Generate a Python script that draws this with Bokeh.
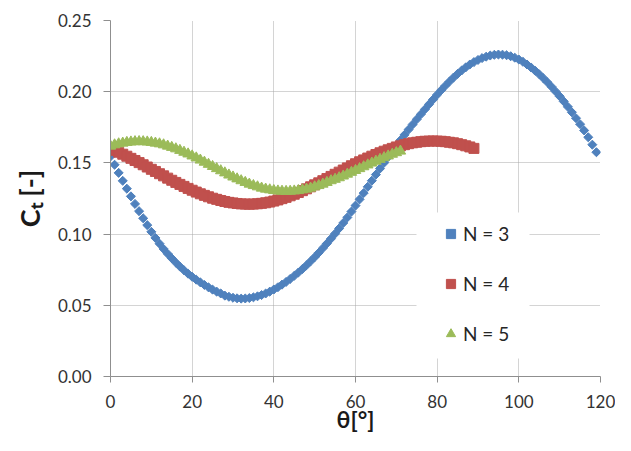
import math
from bokeh.plotting import figure
from bokeh.models import (Range1d, Legend, LegendItem, BoxAnnotation,
                          NumeralTickFormatter, FixedTicker)
from bokeh.embed import file_html
from bokeh.resources import INLINE

# ---------------- data ----------------
theta3 = list(range(0, 120))
ct3 = [0.1545, 0.1487, 0.1430, 0.1374, 0.1319, 0.1265, 0.1212, 0.1161, 0.1111, 0.1063,
       0.1016, 0.0973, 0.0933, 0.0896, 0.0862, 0.0830, 0.0800, 0.0772, 0.0746, 0.0722,
       0.0700, 0.0680, 0.0661, 0.0643, 0.0626, 0.0610, 0.0596, 0.0583, 0.0568, 0.0560,
       0.0553, 0.0549, 0.0547, 0.0548, 0.0551, 0.0556, 0.0563, 0.0572, 0.0583, 0.0596,
       0.0611, 0.0627, 0.0645, 0.0664, 0.0685, 0.0707, 0.0730, 0.0755, 0.0781, 0.0809,
       0.0838, 0.0869, 0.0901, 0.0934, 0.0968, 0.1003, 0.1040, 0.1078, 0.1117, 0.1158,
       0.1200, 0.1244, 0.1288, 0.1332, 0.1375, 0.1418, 0.1460, 0.1501, 0.1542, 0.1582,
       0.1621, 0.1659, 0.1697, 0.1734, 0.1770, 0.1806, 0.1841, 0.1876, 0.1911, 0.1945,
       0.1979, 0.2011, 0.2042, 0.2071, 0.2099, 0.2125, 0.2149, 0.2171, 0.2191, 0.2208,
       0.2223, 0.2236, 0.2246, 0.2254, 0.2259, 0.2261, 0.2260, 0.2256, 0.2249, 0.2239,
       0.2226, 0.2210, 0.2191, 0.2170, 0.2147, 0.2122, 0.2095, 0.2066, 0.2035, 0.2002,
       0.1968, 0.1932, 0.1894, 0.1855, 0.1814, 0.1772, 0.1728, 0.1680, 0.1628, 0.1575]

theta4 = list(range(0, 90))
ct4 = [0.1600, 0.1588, 0.1575, 0.1561, 0.1547, 0.1532, 0.1517, 0.1502, 0.1487, 0.1471,
       0.1455, 0.1440, 0.1424, 0.1409, 0.1393, 0.1378, 0.1363, 0.1349, 0.1335, 0.1321,
       0.1308, 0.1295, 0.1283, 0.1272, 0.1262, 0.1252, 0.1244, 0.1236, 0.1229, 0.1223,
       0.1219, 0.1215, 0.1212, 0.1211, 0.1210, 0.1211, 0.1213, 0.1216, 0.1220, 0.1225,
       0.1232, 0.1240, 0.1249, 0.1258, 0.1269, 0.1280, 0.1292, 0.1305, 0.1318, 0.1332,
       0.1346, 0.1360, 0.1375, 0.1390, 0.1405, 0.1420, 0.1435, 0.1450, 0.1465, 0.1480,
       0.1494, 0.1508, 0.1521, 0.1534, 0.1547, 0.1559, 0.1571, 0.1582, 0.1592, 0.1602,
       0.1612, 0.1620, 0.1628, 0.1635, 0.1641, 0.1645, 0.1649, 0.1652, 0.1653, 0.1654,
       0.1653, 0.1652, 0.1649, 0.1645, 0.1641, 0.1635, 0.1628, 0.1620, 0.1612, 0.1602]

theta5 = list(range(0, 72))
ct5 = [0.1618, 0.1627, 0.1634, 0.1639, 0.1644, 0.1647, 0.1649, 0.1650, 0.1649, 0.1647,
       0.1644, 0.1639, 0.1634, 0.1627, 0.1618, 0.1609, 0.1599, 0.1588, 0.1575, 0.1563,
       0.1549, 0.1535, 0.1520, 0.1505, 0.1490, 0.1475, 0.1460, 0.1445, 0.1430, 0.1415,
       0.1401, 0.1388, 0.1375, 0.1363, 0.1351, 0.1341, 0.1332, 0.1323, 0.1316, 0.1311,
       0.1306, 0.1303, 0.1301, 0.1300, 0.1301, 0.1303, 0.1306, 0.1311, 0.1316, 0.1323,
       0.1332, 0.1341, 0.1351, 0.1363, 0.1375, 0.1385, 0.1396, 0.1408, 0.1421, 0.1434,
       0.1447, 0.1460, 0.1473, 0.1486, 0.1499, 0.1512, 0.1525, 0.1537, 0.1549, 0.1561,
       0.1572, 0.1583]

series_labels = ["N = 3", "N = 4", "N = 5"]
x_ticks = [0, 20, 40, 60, 80, 100, 120]
y_ticks = [0.00, 0.05, 0.10, 0.15, 0.20, 0.25]
x_label = "θ[°]"
y_label = "Cₜ [-]"

# ---------------- styling ----------------
BLUE = "#4F81BD"
RED = "#C0504D"
GREEN = "#9BBB59"
FONT = "Lato"
AXIS_GRAY = "#8f8f8f"
TOTAL_H = 435
FRAME_W = 490
FRAME_H = 356

p = figure(frame_width=FRAME_W, frame_height=FRAME_H,
           min_border_left=110, min_border_right=615 - 110 - FRAME_W,
           min_border_top=20, min_border_bottom=TOTAL_H - 20 - FRAME_H,
           x_range=Range1d(0, 120), y_range=Range1d(0, 0.25),
           output_backend="svg", toolbar_location=None,
           background_fill_color="white", border_fill_color="white")
p.outline_line_color = None

for g in (p.xgrid, p.ygrid):
    g.grid_line_color = "#a8a8a8"
    g.grid_line_dash = "1 1"
    g.grid_line_width = 1

p.xaxis.ticker = FixedTicker(ticks=x_ticks)
p.yaxis.ticker = FixedTicker(ticks=y_ticks)
p.yaxis.formatter = NumeralTickFormatter(format="0.00")
for ax in (p.xaxis, p.yaxis):
    ax.axis_line_color = AXIS_GRAY
    ax.axis_line_width = 1
    ax.major_tick_line_color = AXIS_GRAY
    ax.major_tick_in = 0
    ax.minor_tick_line_color = None
    ax.major_label_text_font = FONT
    ax.major_label_text_font_size = "17px"
    ax.major_label_text_color = "#333333"
    ax.axis_label_text_font = FONT
    ax.axis_label_text_font_style = "bold"
    ax.axis_label_text_color = "#1a1a1a"
p.xaxis.major_tick_out = 6
p.yaxis.major_tick_out = 7
p.xaxis.major_label_standoff = 12
p.yaxis.major_label_standoff = 12

p.xaxis.axis_label = x_label
p.xaxis.axis_label_text_font_size = "23px"
p.xaxis.axis_label_standoff = -6

p.yaxis.axis_label = y_label
p.yaxis.axis_label_text_font_size = "27px"
p.yaxis.axis_label_standoff = 9

r3 = p.scatter(theta3, ct3, marker="square", angle=math.pi / 4, size=6.4,
               fill_color=BLUE, line_color=BLUE)
r4 = p.scatter(theta4, ct4, marker="square", size=10,
               fill_color=RED, line_color=RED)
r5 = p.scatter(theta5, ct5, marker="triangle", size=10.5,
               fill_color=GREEN, line_color=GREEN)

# white legend area that interrupts the grid
xs = 120.0 / FRAME_W
ys = 0.25 / FRAME_H
box = BoxAnnotation(left=306 * xs, right=419 * xs, bottom=18 * ys, top=164 * ys,
                    fill_color="white", fill_alpha=1.0, line_color=None)
p.add_layout(box)

legend = Legend(items=[LegendItem(label=series_labels[0], renderers=[r3]),
                       LegendItem(label=series_labels[1], renderers=[r4]),
                       LegendItem(label=series_labels[2], renderers=[r5])],
                location=(329, 31), orientation="vertical",
                padding=11, spacing=27, glyph_width=23, glyph_height=23,
                label_height=23, label_standoff=1,
                label_text_font=FONT, label_text_font_size="19px",
                label_text_color="#262626",
                background_fill_alpha=0.0, border_line_color=None)
p.add_layout(legend, "center")

open("out.html", "w").write(file_html(p, INLINE))
